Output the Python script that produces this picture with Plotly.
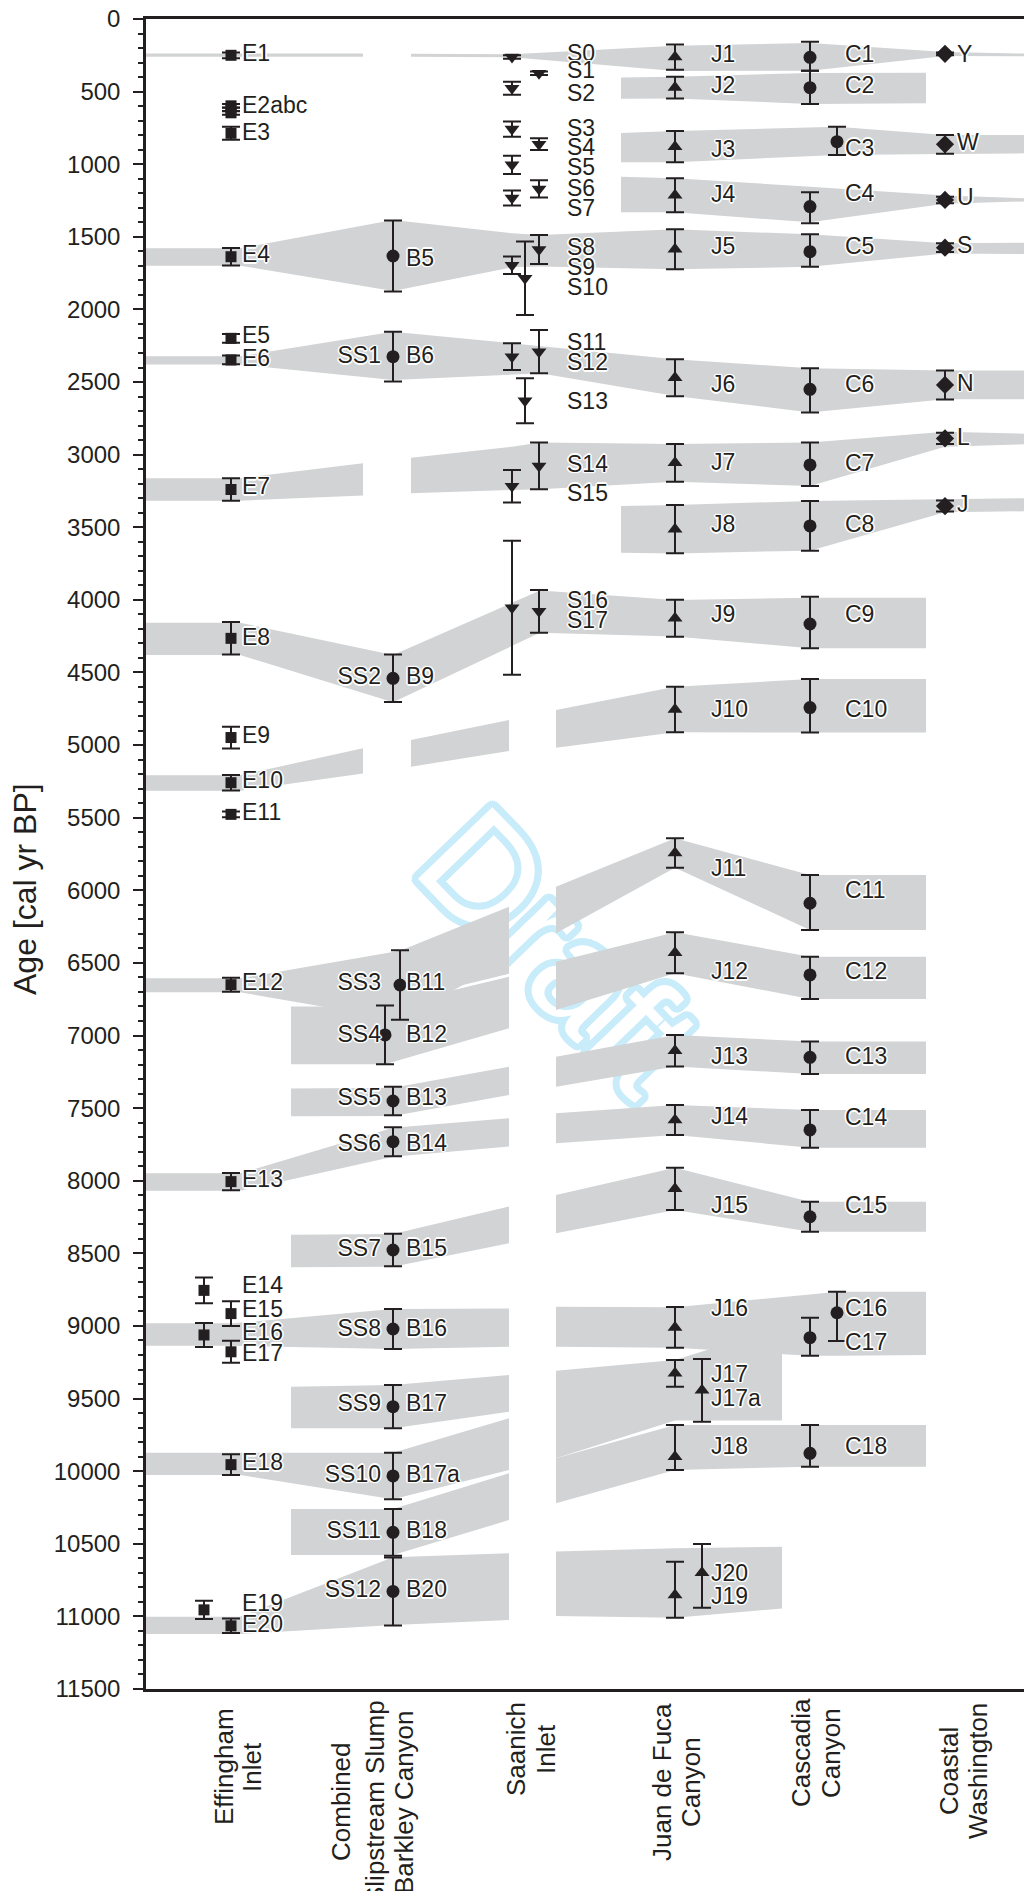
import math
import plotly.graph_objects as go

# ------------------------------------------------------------------ data
# Effingham Inlet (ages cal yr BP, +/- error)
E_event = ["E1", "E2a", "E2b", "E2c", "E3", "E4", "E5", "E6", "E7", "E8", "E9", "E10", "E11",
           "E12", "E13", "E14", "E15", "E16", "E17", "E18", "E19", "E20"]
E_age = [250, 598, 622, 646, 787, 1637, 2199, 2348, 3240, 4265, 4948, 5259, 5477,
         6650, 8006, 8755, 8915, 9062, 9178, 9955, 10955, 11065]
E_err = [20, 13, 13, 13, 45, 60, 30, 30, 77, 112, 75, 53, 20,
         48, 60, 88, 85, 83, 76, 72, 63, 50]
E_track = ["a", "a", "a", "a", "a", "a", "a", "a", "a", "a", "a", "a", "a",
           "a", "a", "b", "a", "b", "a", "a", "b", "a"]
E_label = ["E1", "E2abc", "E3", "E4", "E5", "E6", "E7", "E8", "E9", "E10", "E11", "E12", "E13",
           "E14", "E15", "E16", "E17", "E18", "E19", "E20"]
E_label_age = [248, 611, 792, 1637, 2192, 2353, 3232, 4270, 4948, 5256, 5477, 6645, 8006,
               8732, 8897, 9055, 9200, 9953, 10922, 11067]

# Combined Slipstream Slump / Barkley Canyon
B_event = ["B5", "B6", "B9", "B11", "B12", "B13", "B14", "B15", "B16", "B17", "B17a", "B18", "B20"]
B_age = [1632, 2325, 4540, 6652, 6996, 7451, 7731, 8477, 9021, 9556, 10033, 10421, 10828]
B_err = [245, 172, 163, 240, 202, 98, 100, 112, 138, 149, 160, 161, 234]
B_track = ["a", "a", "a", "r", "l", "a", "a", "a", "a", "a", "a", "a", "a"]
B_label_age = [1660, 2332, 4540, 6645, 7003, 7440, 7754, 8477, 9031, 9545, 10033, 10421, 10828]
SS_label = ["SS1", "SS2", "SS3", "SS4", "SS5", "SS6", "SS7", "SS8", "SS9", "SS10", "SS11", "SS12"]
SS_label_age = [2332, 4540, 6645, 7003, 7440, 7754, 8477, 9031, 9545, 10033, 10421, 10828]

# Saanich Inlet
S_event = ["S0", "S1", "S2", "S3", "S4", "S5", "S6", "S7", "S8", "S9", "S10", "S11", "S12",
           "S13", "S14", "S15", "S16", "S17"]
S_age = [262, 374, 477, 758, 862, 1004, 1170, 1233, 1587, 1696, 1786, 2291, 2325,
         2629, 3078, 3218, 4054, 4079]
S_err = [12, 12, 45, 52, 40, 63, 60, 52, 100, 60, 253, 149, 92,
         155, 161, 112, 461, 147]
S_track = ["a", "b", "a", "a", "b", "a", "b", "a", "b", "a", "m", "b", "a",
           "m", "b", "a", "a", "b"]
S_label_age = [248, 370, 523, 764, 895, 1035, 1182, 1315, 1586, 1724, 1862, 2240, 2378,
               2647, 3078, 3278, 4019, 4155]

# Juan de Fuca Canyon
J_event = ["J1", "J2", "J3", "J4", "J5", "J6", "J7", "J8", "J9", "J10", "J11", "J12", "J13",
           "J14", "J15", "J16", "J17", "J17a", "J18", "J19", "J20"]
J_age = [262, 472, 879, 1214, 1586, 2470, 3056, 3513, 4127, 4755, 5743, 6430, 7105,
         7582, 8056, 9010, 9326, 9443, 9900, 10853, 10699]
J_err_minus = [87, 75, 108, 117, 138, 127, 130, 166, 127, 157, 101, 141, 109,
               103, 146, 140, 92, 216, 218, 230, 198]
J_err_plus = [87, 75, 108, 117, 138, 127, 130, 166, 127, 157, 101, 141, 109,
              103, 146, 140, 92, 216, 92, 156, 241]
J_track = ["a"] * 17 + ["b", "a", "a", "b"]
J_label_age = [255, 473, 914, 1223, 1579, 2532, 3067, 3496, 4116, 4770, 5865, 6572, 7157,
               7570, 8183, 8890, 9345, 9515, 9843, 10875, 10715]

# Cascadia Canyon
C_event = ["C1", "C2", "C3", "C4", "C5", "C6", "C7", "C8", "C9", "C10", "C11", "C12", "C13",
           "C14", "C15", "C16", "C17", "C18"]
C_age = [264, 473, 845, 1292, 1602, 2550, 3071, 3491, 4166, 4742, 6089, 6583, 7150,
         7650, 8248, 8909, 9081, 9877]
C_err_minus = [108, 117, 103, 99, 119, 145, 154, 172, 188, 197, 195, 126, 108,
               137, 103, 145, 138, 195]
C_err_plus = [92, 112, 91, 115, 104, 159, 145, 170, 167, 172, 184, 165, 115,
              122, 103, 194, 124, 92]
C_track = ["a", "a", "b", "a", "a", "a", "a", "a", "a", "a", "a", "a", "a",
           "a", "a", "b", "a", "a"]
C_label_age = [255, 473, 902, 1212, 1579, 2532, 3071, 3491, 4116, 4770, 6010, 6572, 7157,
               7577, 8183, 8890, 9124, 9843]

# Coastal Washington
W_event = ["Y", "W", "U", "S", "N", "L", "J"]
W_age = [240, 863, 1246, 1575, 2520, 2888, 3354]
W_err = [10, 65, 22, 30, 100, 38, 38]
W_label_age = [255, 863, 1239, 1575, 2520, 2894, 3354]

# Correlation bands: segments of (station, upper age, lower age)
BAND_1 = [[("ax", 238, 260), ("Bgl", 238, 260)],
          [("Bgr", 240, 260), ("S1", 243, 264), ("J", 184, 358), ("C", 165, 356),
           ("W", 228, 254), ("end", 238, 256)]]
BAND_2 = [[("Jl", 402, 549), ("J", 397, 548), ("C", 372, 585), ("Cr", 370, 580)]]
BAND_3 = [[("Jl", 785, 987), ("J", 771, 987), ("C2", 742, 936), ("W", 799, 930), ("end", 799, 925)]]
BAND_4 = [[("Jl", 1086, 1331), ("J", 1097, 1331), ("C", 1155, 1400), ("W", 1215, 1272),
           ("end", 1234, 1256)]]
BAND_5 = [[("ax", 1579, 1699), ("E", 1579, 1699), ("B", 1384, 1873), ("S1", 1476, 1710),
           ("S2", 1487, 1705), ("J", 1448, 1724), ("C", 1483, 1706), ("W", 1545, 1615),
           ("end", 1540, 1618)]]
BAND_6 = [[("ax", 2323, 2380), ("E", 2323, 2380), ("B", 2153, 2486), ("S2", 2250, 2440),
           ("J", 2343, 2596), ("C", 2405, 2709), ("W", 2421, 2619), ("end", 2421, 2619)]]
BAND_7 = [[("ax", 3163, 3317), ("E", 3163, 3317), ("Bgl", 3059, 3282)],
          [("Bgr", 3021, 3266), ("S1", 2945, 3243), ("S2", 2917, 3238), ("J", 2927, 3186),
           ("C", 2917, 3216), ("W", 2842, 2945), ("end", 2856, 2929)]]
BAND_8 = [[("Jl", 3354, 3675), ("J", 3347, 3680), ("C", 3319, 3661), ("W", 3305, 3397),
           ("end", 3300, 3390)]]
BAND_9 = [[("ax", 4157, 4380), ("E", 4157, 4380), ("B", 4380, 4705), ("S2", 3936, 4226),
           ("J", 4001, 4253), ("C", 3985, 4333), ("Cr", 3985, 4333)]]
BAND_10 = [[("ax", 5208, 5314), ("E", 5208, 5314), ("Bgl", 5022, 5195)],
           [("Bgr", 4965, 5149), ("Sgl", 4827, 5040)],
           [("Sgr", 4758, 5018), ("J", 4598, 4912), ("C", 4545, 4914), ("Cr", 4545, 4914)]]
BAND_11 = [[("ax", 6606, 6702), ("E", 6606, 6702), ("B11", 6416, 6893), ("Bm", 6241, 6652),
            ("Sgl", 6113, 6575)],
           [("Sgr", 5975, 6296), ("J", 5642, 5844), ("C", 5894, 6273), ("Cr", 5894, 6273)]]
BAND_12 = [[("Bl", 6801, 7198), ("B12", 6801, 7198), ("Sgl", 6595, 6950)],
           [("Sgr", 6492, 6824), ("J", 6289, 6572), ("C", 6457, 6748), ("Cr", 6457, 6748)]]
BAND_13 = [[("Bl", 7365, 7556), ("B", 7359, 7554), ("Sgl", 7215, 7410)],
           [("Sgr", 7146, 7352), ("J", 6996, 7214), ("C", 7042, 7265), ("Cr", 7042, 7265)]]
BAND_14 = [[("ax", 7949, 8069), ("E", 7949, 8069), ("B", 7635, 7834), ("Sgl", 7570, 7765)],
           [("Sgr", 7536, 7742), ("J", 7478, 7685), ("C", 7513, 7772), ("Cr", 7513, 7772)]]
BAND_15 = [[("Bl", 8372, 8596), ("B", 8367, 8592), ("Sgl", 8178, 8431)],
           [("Sgr", 8098, 8362), ("J", 7910, 8202), ("C", 8145, 8351), ("Cr", 8145, 8351)]]
BAND_16 = [[("ax", 8982, 9136), ("E16", 8982, 9136), ("B", 8883, 9159), ("Sgl", 8879, 9143)],
           [("Sgr", 8867, 9143), ("J", 8871, 9150), ("C", 8783, 9205), ("C2", 8764, 9205),
            ("Cr", 8764, 9200)]]
BAND_17 = [[("Bl", 9418, 9705), ("B", 9407, 9705), ("Sgl", 9338, 9590)],
           [("Sgr", 9308, 9911), ("J", 9234, 9651), ("Jm", 9131, 9651), ("Jr", 9170, 9651)]]
BAND_18 = [[("ax", 9873, 10026), ("E", 9873, 10026), ("B", 9873, 10194), ("Sgl", 9636, 9992)]]
BAND_19 = [[("Bl", 10260, 10577), ("B", 10260, 10577), ("Sgl", 10015, 10337)],
           [("Sgr", 9911, 10221), ("J", 9682, 9992), ("C", 9682, 9969), ("Cr", 9682, 9969)]]
BAND_20 = [[("ax", 11002, 11121), ("E", 11002, 11121), ("B", 10592, 11059), ("Sgl", 10566, 11025)],
           [("Sgr", 10554, 10998), ("J", 10530, 11009), ("Jr", 10520, 10945)]]
BANDS = [BAND_1, BAND_2, BAND_3, BAND_4, BAND_5, BAND_6, BAND_7, BAND_8, BAND_9, BAND_10,
         BAND_11, BAND_12, BAND_13, BAND_14, BAND_15, BAND_16, BAND_17, BAND_18, BAND_19, BAND_20]

CATEGORY_LINES = [["Effingham", "Inlet"],
                  ["Combined", "Slipstream Slump", "Barkley Canyon"],
                  ["Saanich", "Inlet"],
                  ["Juan de Fuca", "Canyon"],
                  ["Cascadia", "Canyon"],
                  ["Coastal", "Washington"]]

# ------------------------------------------------------------------ layout constants
W_PX, H_PX = 1024, 1891
L, R, T, B = 146, 0, 19, 202
INK = "#231f20"
GREY = "#d1d3d4"
WM = "#c9ecfa"
FONT = "Arial, 'Liberation Sans', sans-serif"
HALO = ("1px 1px 1px #fff, -1px -1px 1px #fff, 1px -1px 1px #fff, -1px 1px 1px #fff, "
        "0 1.5px 0 #fff, 0 -1.5px 0 #fff, 1.5px 0 0 #fff, -1.5px 0 0 #fff")
WM_OUTLINE = ", ".join(
    f"{7 * math.cos(a * math.pi / 12):.2f}px {7 * math.sin(a * math.pi / 12):.2f}px 0.5px {WM}"
    for a in range(24))

# horizontal positions (x axis is laid out in screen px units)
TRACK_X = {"E": {"a": 231, "b": 204}, "B": {"a": 393, "r": 400, "l": 385},
           "S": {"a": 512, "b": 539, "m": 525}, "J": {"a": 675, "b": 702},
           "C": {"a": 810, "b": 837}, "W": {"a": 945}}
STATION_X = {"ax": 146, "E": 240, "E16": 233, "Bl": 291, "Bgl": 363, "B12": 385, "B": 393,
             "B11": 400, "Bgr": 411, "Bm": 463, "Sgl": 509, "S1": 512, "S2": 540, "Sgr": 556,
             "Jl": 621, "J": 675, "Jm": 723, "Jr": 782, "C": 810, "C2": 837, "Cr": 926,
             "W": 945, "end": 1024}
LABEL_X = {"E": 242, "B": 406, "SS": 381, "S": 567, "J": 711, "C": 845, "W": 957}
CAT_X = [[224, 252], [341, 375, 404], [516, 546], [662, 691], [801, 831], [949, 978]]
CAT_YC = [1767, 1802, 1749, 1782, 1753, 1771]

fig = go.Figure()

# ---- correlation bands
for band in BANDS:
    for seg in band:
        xs = [STATION_X[s] for s, _, _ in seg] + [STATION_X[s] for s, _, _ in reversed(seg)]
        ys = [t for _, t, _ in seg] + [b for _, _, b in reversed(seg)]
        fig.add_trace(go.Scatter(x=xs, y=ys, mode="lines", fill="toself", fillcolor=GREY,
                                 line=dict(width=0, color=GREY), hoverinfo="skip",
                                 showlegend=False))


def add_points(col, ages, em, ep, tracks, symbol, size):
    xs = [TRACK_X[col][t] for t in tracks]
    fig.add_trace(go.Scatter(
        x=xs, y=ages, mode="markers",
        marker=dict(symbol=symbol, size=size, color=INK, line=dict(width=0)),
        error_y=dict(type="data", symmetric=False, array=ep, arrayminus=em,
                     color=INK, thickness=2, width=9),
        showlegend=False, hoverinfo="skip", cliponaxis=False))


add_points("E", E_age, E_err, E_err, E_track, "square", 11)
add_points("B", B_age, B_err, B_err, B_track, "circle", 13)
add_points("S", S_age, S_err, S_err, S_track, "triangle-down", 13)
add_points("J", J_age, J_err_minus, J_err_plus, J_track, "triangle-up", 13)
add_points("C", C_age, C_err_minus, C_err_plus, C_track, "circle", 13)
add_points("W", W_age, W_err, W_err, ["a"] * len(W_age), "diamond", 14)


def add_labels(key, names, ages, pos="middle right"):
    fig.add_trace(go.Scatter(
        x=[LABEL_X[key]] * len(names), y=ages, mode="text", text=names,
        textposition=pos,
        textfont=dict(size=23, color=INK, family=FONT, shadow=HALO),
        showlegend=False, hoverinfo="skip", cliponaxis=False))


add_labels("E", E_label, E_label_age)
add_labels("B", B_event, B_label_age)
add_labels("SS", SS_label, SS_label_age, "middle left")
add_labels("S", S_event, S_label_age)
add_labels("J", J_event, J_label_age)
add_labels("C", C_event, C_label_age)
add_labels("W", W_event, W_label_age)

plot_h = H_PX - T - B
annotations = []
for lines, xs, yc in zip(CATEGORY_LINES, CAT_X, CAT_YC):
    for line, x in zip(lines, xs):
        annotations.append(dict(
            x=x, xref="x", y=0, yref="paper", yshift=-(yc - (T + plot_h)),
            text=line, showarrow=False, textangle=-90,
            xanchor="center", yanchor="middle",
            font=dict(size=26, color=INK, family=FONT)))

annotations.append(dict(
    x=0, xref="paper", xshift=-(L - 25), y=(T + plot_h - 889) / plot_h, yref="paper",
    text="Age [cal yr BP]", showarrow=False, textangle=-90,
    xanchor="center", yanchor="middle", font=dict(size=32, color=INK, family=FONT)))

fig.update_layout(
    width=W_PX, height=H_PX,
    margin=dict(l=L, r=R, t=T, b=B, pad=0),
    paper_bgcolor="white", plot_bgcolor="white",
    font=dict(family=FONT, color=INK),
    showlegend=False,
    annotations=annotations,
    shapes=[dict(type="rect", xref="x", yref="y", x0=520, x1=620, y0=6050, y1=6650,
                 line=dict(width=0), fillcolor="rgba(0,0,0,0)", layer="below",
                 label=dict(text="Draft", textangle=46, textposition="middle center",
                            font=dict(size=150, family=FONT, color="white",
                                      shadow=WM_OUTLINE)))],
    xaxis=dict(range=[L, W_PX], showgrid=False, zeroline=False, showticklabels=False,
               ticks="", showline=True, linewidth=2.5, linecolor=INK, mirror=True,
               fixedrange=True),
    yaxis=dict(range=[11500, 0], showgrid=False, zeroline=False,
               tickmode="linear", tick0=0, dtick=500, tickformat="d",
               ticks="outside", ticklen=10, tickwidth=2, tickcolor=INK,
               ticklabelstandoff=8,
               tickfont=dict(size=24, color=INK, family=FONT),
               minor=dict(dtick=100, ticks="outside", ticklen=5, tickwidth=2, tickcolor=INK),
               showline=True, linewidth=2.5, linecolor=INK, fixedrange=True),
)

fig.write_html("out.html")
